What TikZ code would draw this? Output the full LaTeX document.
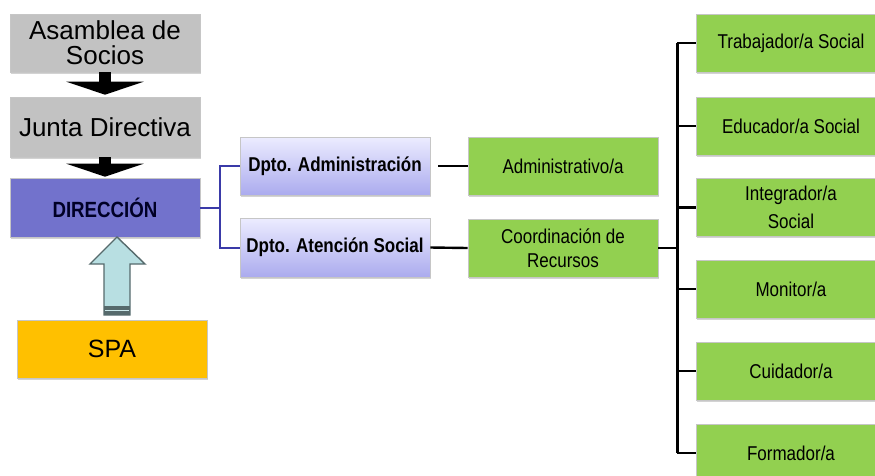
\documentclass[tikz,border=0pt]{standalone}
\usepackage{fontspec}
\setmainfont{Liberation Sans}
\newfontfamily\narrowfont[FakeStretch=0.85]{Liberation Sans}
\usetikzlibrary{calc,shadows,arrows.meta}
\definecolor{boxgray}{HTML}{C2C2C2}
\definecolor{dirblue}{HTML}{7272CC}
\definecolor{dpttop}{HTML}{ECECFF}
\definecolor{dptbot}{HTML}{ABABEE}
\definecolor{boxgreen}{HTML}{92D050}
\definecolor{spaorange}{HTML}{FFC000}
\definecolor{linkblue}{HTML}{3A3AA8}
\definecolor{arrowfill}{HTML}{B8DFE2}
\definecolor{arrowedge}{HTML}{566A6C}
\tikzset{
  box/.style={draw=gray!45, line width=0.6pt, minimum width=190, minimum height=58,
    inner sep=2pt, align=center,
    drop shadow={shadow xshift=1pt, shadow yshift=-1.5pt, opacity=0.35, fill=gray}},
  graybox/.style={box, fill=boxgray, font=\fontsize{26}{25}\selectfont},
  dirbox/.style={box, fill=dirblue, text=black!85!blue,
    font=\narrowfont\bfseries\fontsize{22}{24}\selectfont},
  dptbox/.style={box, top color=dpttop, bottom color=dptbot,
    font=\narrowfont\bfseries\fontsize{20}{24}\selectfont},
  greenbox/.style={box, fill=boxgreen, font=\narrowfont\fontsize{20}{24}\selectfont},
  spabox/.style={box, fill=spaorange, font=\fontsize{25}{28}\selectfont},
  blueline/.style={draw=linkblue, line width=2pt},
  blackline/.style={draw=black, line width=2.4pt},
  downarrow/.style={line width=12pt, -{Triangle[width=77pt,length=13pt]}},
}
\begin{document}
\begin{tikzpicture}[x=1pt, y=-1pt]
    \useasboundingbox (0,0) rectangle (875,475);
    \clip (0,0) rectangle (875,475);

    % left column
    \node [graybox] (asam) at (105,43) {Asamblea de\\Socios};
    \node [graybox, minimum height=60] (junta) at (105,127) {Junta Directiva};
    \node [dirbox, minimum height=59] (dir) at (105,207.5) {DIRECCIÓN};
    \node [spabox] (spa) at (112,349) {SPA};
    \draw [downarrow] (asam.south) -- ([yshift=2pt]junta.north);
    \draw [downarrow] (junta.south) -- ([yshift=1pt]dir.north);

    % arrow from SPA up to the direction
    \coordinate (tip) at (117,237);
    \filldraw [fill=arrowfill, draw=arrowedge, line width=1.4pt, line join=miter]
      (tip) -- ++(28,27) -- ++(-15,0) -- ++(0,51) -- ++(-26,0) -- ++(0,-51)
      -- ++(-14,0) -- cycle;
    \fill [arrowedge] (104,306) rectangle (130,315);
    \draw [arrowfill!70!white, line width=0.8pt] (105,310.5) -- (129,310.5);

    % departments
    \node [dptbox] (dadm) at (335,166) {Dpto. Administración};
    \node [dptbox, minimum height=59] (daten) at (335,247.5) {Dpto. Atención Social};
    \draw [blueline] (dir.east) -- ++(20,0) coordinate (split) |- (dadm.west);
    \draw [blueline] (split) |- (daten.west);

    % second level
    \node [greenbox] (admtivo) at (563,166) {Administrativo/a};
    \node [greenbox, font=\narrowfont\fontsize{20}{24}\selectfont] (coord) at (563,248)
      {Coordinación de\\Recursos};
    \draw [blackline, shorten <=8pt] (dadm.east) -- (admtivo.west);
    \draw [blackline] (daten.east) -- (coord.west);

    % staff
    \node [greenbox] (trab) at (791,43) {Trabajador/a Social};
    \node [greenbox] (educ) at (791,126) {Educador/a Social};
    \node [greenbox, font=\narrowfont\fontsize{20}{28}\selectfont] (integ) at (791,207.5)
      {Integrador/a\\Social};
    \node [greenbox] (moni) at (791,289) {Monitor/a};
    \node [greenbox] (cuid) at (791,371) {Cuidador/a};
    \node [greenbox] (form) at (791,453) {Formador/a};

    \draw [blackline] (coord.east) -- ++(19,0) coordinate (trunk);
    \draw [blackline] (trunk |- trab.west) -- (trunk |- form.west);
    \draw [blackline] (trunk |- trab.west) -- (trab.west);
    \draw [blackline] (trunk |- educ.west) -- (educ.west);
    \draw [blackline] (trunk |- integ.west) -- (integ.west);
    \draw [blackline] (trunk |- moni.west) -- (moni.west);
    \draw [blackline] (trunk |- cuid.west) -- (cuid.west);
    \draw [blackline] (trunk |- form.west) -- (form.west);
\end{tikzpicture}
\end{document}
